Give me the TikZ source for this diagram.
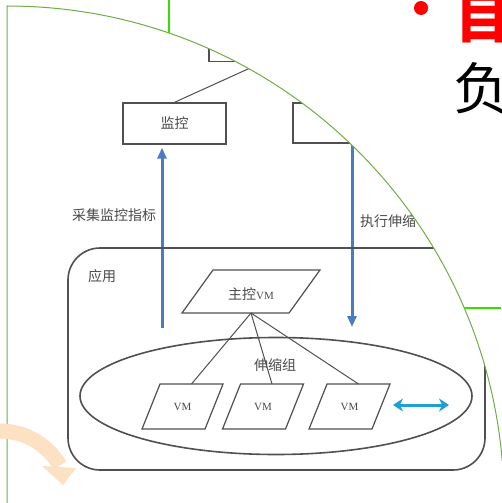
\documentclass[tikz,border=0pt]{standalone}
\usepackage{fontspec}
\setmainfont{Liberation Serif}
\newfontfamily\cjk{Noto Sans CJK SC}
\usetikzlibrary{shapes.geometric,arrows.meta}
\definecolor{ink}{HTML}{505050}
\definecolor{txt}{HTML}{4A4A4A}
\definecolor{bl}{HTML}{4A7CC4}
\definecolor{cy}{HTML}{1FA0D2}
\definecolor{peach}{HTML}{FCE1C3}
\definecolor{olive}{HTML}{70AD47}
\definecolor{lime}{HTML}{3CDC00}
\begin{document}
\begin{tikzpicture}[x=1pt,y=-1pt,
  box/.style={draw=ink, line width=1.3pt, minimum width=103pt, minimum height=41pt, inner sep=0pt},
  para/.style={draw=ink, line width=1.2pt, fill=white, line join=miter},
  lbl/.style={font=\cjk\fontsize{14}{16}\selectfont, text=txt, inner sep=0pt},
  vmt/.style={font=\fontsize{11}{13}\selectfont, text=txt, inner sep=0pt},
  link/.style={draw=ink, line width=1pt},
  bluearrow/.style={draw=bl, line width=3pt, -{Triangle[length=11pt,width=9pt]}},
  cyarrow/.style={draw=cy, line width=3pt, {Stealth[length=10pt,width=13pt]}-{Stealth[length=10pt,width=13pt]}},
]
\useasboundingbox (0,0) rectangle (501,503);
\fill[white] (0,0) rectangle (501,503);
\begin{scope}
  \clip (7,6) arc[start angle=90,end angle=0,radius=497pt] -- (7,503) -- cycle;
  % upper part
  \node[box, minimum width=108pt] (top) at (263,41) {};
  \node[box, lbl] (jk) at (174.5,123.5) {监控};
  \node[box, minimum height=40pt] (b2) at (344.5,123) {};
  \draw[link] (top.south) -- (jk.north);
  \coordinate (upS) at (162,328);
  \draw[bluearrow, shorten >=3pt] (upS) -- (upS |- jk.south);
  \node[lbl] (lab1) at (114,215) {采集监控指标};
  \coordinate (dnE) at (352,327);
  \draw[bluearrow] (dnE |- b2.south) -- (dnE);
  \node[lbl, anchor=west] (lab2) at (360,221) {执行伸缩};
  % application box
  \node[draw=ink, line width=1.6pt, rounded corners=32pt, minimum width=417pt, minimum height=222pt] (app) at (276.5,359) {};
  \node[lbl] (applbl) at (102,276) {应用};
  \node[draw=ink, line width=1.6pt, ellipse, minimum width=392pt, minimum height=117pt, inner sep=0pt] (grp) at (276,396) {};
  \node[lbl] (grplbl) at (275,365) {伸缩组};
  % master VM parallelogram
  \coordinate (mvmc) at (251,291.5);
  \draw[para] (mvmc) ++(-69,21.5) -- ++(69,0) coordinate (mvmb) -- ++(38,0) -- ++(31,-43) -- ++(-107,0) -- cycle;
  \node[lbl] (mvm) at (251,294) {主控{\rmfamily\fontsize{11}{13}\selectfont VM}};
  % VM parallelograms
  \coordinate (vm1c) at (182.5,406.5);
  \coordinate (vm2c) at (263,406.5);
  \coordinate (vm3c) at (349.5,406.5);
  \draw[para] (vm1c) ++(-40.5,22.5) -- ++(63,0) -- ++(18,-45) -- ++(-31.5,0) coordinate (vm1t) -- ++(-31.5,0) -- cycle;
  \draw[para] (vm2c) ++(-40.5,22.5) -- ++(63,0) -- ++(18,-45) -- ++(-31.5,0) coordinate (vm2t) -- ++(-31.5,0) -- cycle;
  \draw[para] (vm3c) ++(-40.5,22.5) -- ++(63,0) -- ++(18,-45) -- ++(-31.5,0) coordinate (vm3t) -- ++(-31.5,0) -- cycle;
  \node[vmt] (vm1) at (vm1c) {VM};
  \node[vmt] (vm2) at (vm2c) {VM};
  \node[vmt] (vm3) at (vm3c) {VM};
  \draw[link] (mvmb) -- (vm1t);
  \draw[link] (mvmb) -- (vm2t);
  \draw[link] (mvmb) -- (vm3t);
  \coordinate (ca) at (393,405);
  \coordinate (cb) at (449,405);
  \draw[cyarrow] (ca) -- (cb);
\end{scope}
% outline of the cut-out
\draw[olive, line width=1pt] (7,503) -- (7,6) arc[start angle=90,end angle=0,radius=497pt];
\draw[lime, line width=2.5pt] (169,0) -- (169,33);
\draw[lime, line width=2.5pt] (464,308) -- (501,308);
% orange curved arrow
\draw[peach, line width=15pt] (0,500) ++(94:69pt) arc[start angle=94, end angle=30, radius=69pt];
\fill[peach] (42,466) -- (76,468) -- (63,485) -- cycle;
% slide text
\begin{scope}
  \clip (0,0) rectangle (501,503);
  \fill[red] (421,8) circle[radius=7pt];
  \node[font=\cjk\bfseries\fontsize{56}{60}\selectfont, text=red, anchor=base west, inner sep=0pt] (head) at (455,38) {目};
  \node[font=\cjk\fontsize{56}{60}\selectfont, text=black, anchor=base west, inner sep=0pt] (fu) at (453,109) {负};
\end{scope}
\end{tikzpicture}
\end{document}
